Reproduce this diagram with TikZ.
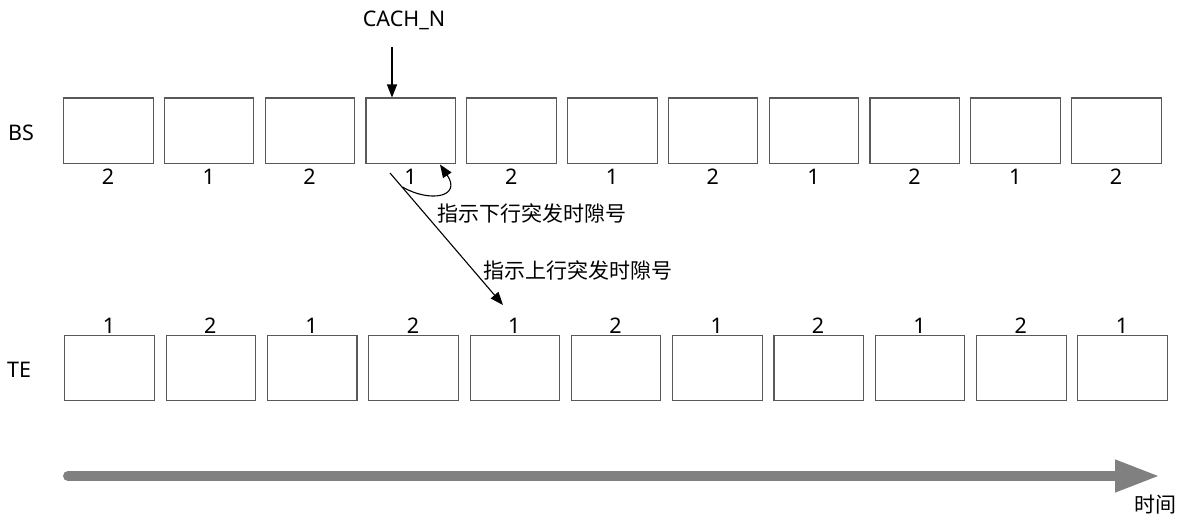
\documentclass[tikz,border=0pt]{standalone}
\usepackage{fontspec}
\setmainfont{Noto Sans}
\newfontfamily\cjk{Noto Sans CJK SC}
\usetikzlibrary{arrows.meta}
\begin{document}
\begin{tikzpicture}[x=1pt,y=-1pt,
  slot/.style={draw=black!65,line width=1.1pt,fill=white,minimum width=89.5pt,minimum height=65.5pt,inner sep=0pt,anchor=north west},
  num/.style={font=\fontsize{21.5}{22}\selectfont,inner sep=0pt},
  lbl/.style={font=\fontsize{21.5}{22}\selectfont,inner sep=0pt},
  cn/.style={font=\cjk\fontsize{21}{22}\selectfont,inner sep=0pt},
  arr/.style={-{Triangle[length=13pt,width=10pt]},line width=1.1pt}]
\useasboundingbox (0,0) rectangle (1190,521);
% BS row
\foreach \i/\n in {1/2,2/1,3/2,4/1,5/2,6/1,7/2,8/1,9/2,10/1,11/2}{
  \node[slot] (bs\i) at ({63+(\i-1)*100.8},97.5) {};
  \node[num] (bsl\i) at ({108+(\i-1)*100.8},177) {\n};
}
% TE row
\foreach \i/\n in {1/1,2/2,3/1,4/2,5/1,6/2,7/1,8/2,9/1,10/2,11/1}{
  \node[slot] (te\i) at ({64.3+(\i-1)*101.3},334.7) {};
  \node[num] (tel\i) at ({109+(\i-1)*101.3},326) {\n};
}
\node[lbl] (bs) at (21,133) {BS};
\node[lbl] (te) at (19,370) {TE};
\node[lbl] (cach) at (404,20) {CACH\_N};
\draw[arr] (392,47) -- (bs4.north west -| 392,0);
% indication arrows
\coordinate (s) at (390,173);
\coordinate (up) at (503,305);
\coordinate (b) at (402.5,187);
\draw[arr] (s) -- (up);
\draw[arr] (b) .. controls (430,203) and (462,197) .. (440,164.5);
\node[cn,anchor=west] (dl) at (437,213) {指示下行突发时隙号};
\node[cn,anchor=west] (ul) at (483,270) {指示上行突发时隙号};
% time axis
\coordinate (t0) at (68,476);
\coordinate (t1) at (1160,476);
\draw[line width=10pt,color=black!50,line cap=round,-{Triangle[length=45pt,width=30pt]}] (t0) -- (t1);
\node[cn] (time) at (1155,505) {时间};
\end{tikzpicture}
\end{document}
